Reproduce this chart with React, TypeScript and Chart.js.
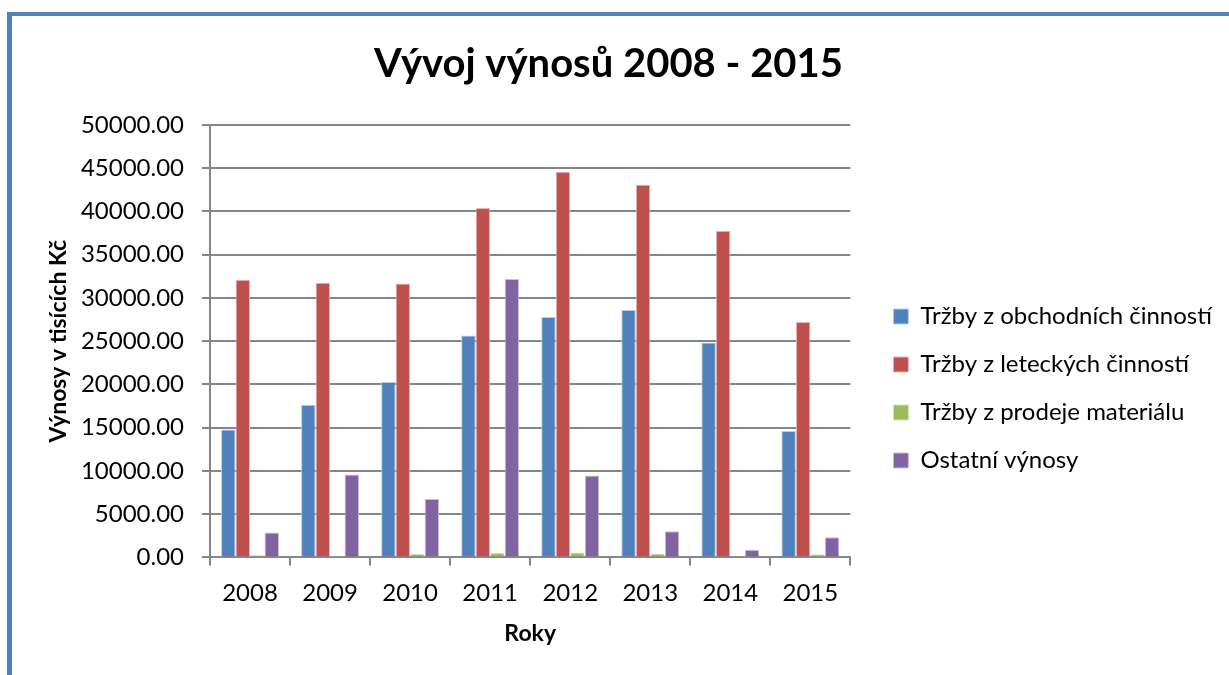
import React, { useEffect, useRef } from "react";
import { Chart, registerables } from "chart.js";

Chart.register(...registerables);

const years = ["2008", "2009", "2010", "2011", "2012", "2013", "2014", "2015"];
const obchodni = [14800, 17650, 20280, 25650, 27800, 28600, 24850, 14630];
const letecke = [32100, 31750, 31680, 40400, 44580, 43080, 37780, 27220];
const material = [250, 150, 430, 500, 560, 450, 200, 350];
const ostatni = [2880, 9600, 6760, 32180, 9480, 3030, 890, 2340];

const seriesNames = [
  "Tržby z obchodních činností",
  "Tržby z leteckých činností",
  "Tržby z prodeje materiálu",
  "Ostatní výnosy",
];
const seriesColors = ["#4F81BD", "#C0504D", "#9BBB59", "#8064A2"];
const seriesEdges = ["#B9CDE5", "#E6B9B8", "#D7E4BD", "#CCC1DA"];

const yMax = 50000;
const yStep = 5000;

const CANVAS_LEFT = -5;
const CANVAS_TOP = 16;
const CANVAS_W = 1227;
const CANVAS_H = 745;

export default function App() {
  const ref = useRef<HTMLCanvasElement | null>(null);

  useEffect(() => {
    if (!ref.current) return;
    const values = [obchodni, letecke, material, ostatni];
    const chart = new Chart(ref.current, {
      type: "bar",
      data: {
        labels: years,
        datasets: values.map((v, i) => ({
          label: seriesNames[i],
          data: v,
          backgroundColor: seriesColors[i],
          borderColor: seriesEdges[i],
          borderWidth: 1,
          categoryPercentage: 0.724,
          barPercentage: 1,
        })),
      },
      options: {
        responsive: false,
        animation: false,
        layout: { padding: 0 },
        font: { family: "Lato" },
        plugins: {
          title: {
            display: true,
            text: "Vývoj výnosů 2008 - 2015",
            color: "#000",
            font: { family: "Lato", size: 40, weight: "bold" },
            padding: { top: 24.5, bottom: 36.5 },
          },
          legend: {
            position: "right",
            maxWidth: 600,
            labels: {
              color: "#000",
              font: { family: "Lato", size: 24 },
              boxWidth: 15,
              boxHeight: 15,
              padding: 24,
            },
          },
          tooltip: { enabled: false },
        },
        scales: {
          x: {
            grid: {
              display: true,
              drawOnChartArea: false,
              drawTicks: true,
              tickLength: 8,
              color: "#868686",
              lineWidth: 2,
            },
            border: { display: true, color: "#868686", width: 2 },
            ticks: {
              color: "#000",
              font: { family: "Lato", size: 24 },
              padding: 13,
            },
            title: {
              display: true,
              text: "Roky",
              color: "#000",
              font: { family: "Lato", size: 23, weight: "bold" },
              padding: { top: 0, bottom: 113.2 },
            },
          },
          y: {
            min: 0,
            max: yMax,
            afterFit: (s: any) => {
              s.width = 210 - CANVAS_LEFT;
            },
            grid: {
              color: "#868686",
              lineWidth: 2,
              tickLength: 8,
            },
            border: { display: true, color: "#868686", width: 2 },
            ticks: {
              stepSize: yStep,
              color: "#000",
              font: { family: "Lato", size: 24 },
              padding: 18,
              callback: (v: any) => Number(v).toFixed(2),
            },
            title: {
              display: true,
              text: "Výnosy v tisících Kč",
              color: "#000",
              font: { family: "Lato", size: 23, weight: "bold" },
              padding: { top: 49.5, bottom: 10 },
            },
          },
          yR: {
            type: "linear",
            position: "right",
            display: true,
            grid: { display: false },
            border: { display: false },
            ticks: { display: false },
            afterFit: (s: any) => {
              s.width = 19;
            },
          },
        },
      },
    } as any);
    return () => chart.destroy();
  }, []);

  return (
    <div
      style={{
        position: "absolute",
        left: 0,
        top: 0,
        width: 1229,
        height: 675,
        overflow: "hidden",
        background: "#fff",
      }}
    >
      <div
        style={{
          position: "absolute",
          left: 7,
          top: 12,
          width: 1400,
          height: 900,
          borderLeft: "5px solid #4F81BD",
          borderTop: "4px solid #4F81BD",
        }}
      />
      <canvas
        ref={ref}
        width={CANVAS_W}
        height={CANVAS_H}
        style={{
          position: "absolute",
          left: CANVAS_LEFT,
          top: CANVAS_TOP,
          width: CANVAS_W,
          height: CANVAS_H,
        }}
      />
    </div>
  );
}
